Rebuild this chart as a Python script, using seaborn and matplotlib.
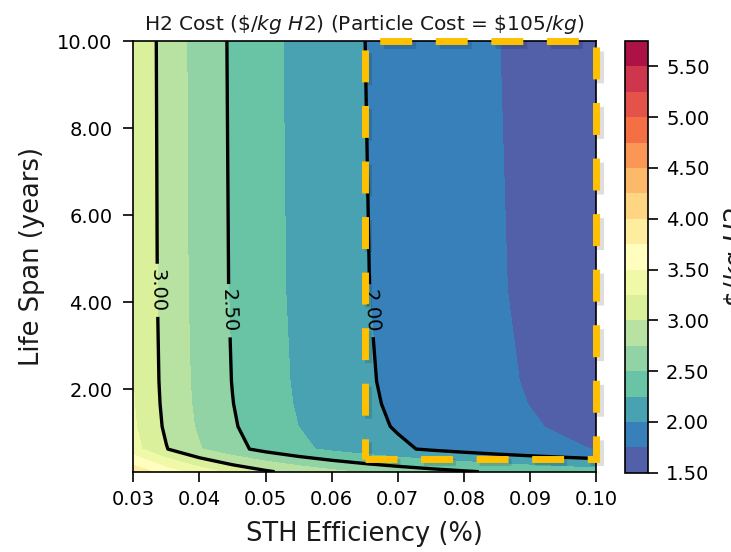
import numpy as np
import matplotlib
matplotlib.use("Agg")
import matplotlib.pyplot as plt
import matplotlib.patheffects as pe
from matplotlib.patches import Rectangle
from matplotlib.ticker import FormatStrFormatter
import seaborn as sns

# ---- data ----
efficiency = [0.030, 0.035, 0.040, 0.045, 0.050, 0.055, 0.060, 0.065,
              0.070, 0.075, 0.080, 0.085, 0.090, 0.095, 0.100]
life_span = [0.10, 0.62, 1.14, 1.66, 2.18, 4.27, 10.0]
# H2 cost ($/kg H2), one row per life span value
cost_life_0_10 = [3.943, 3.619, 3.375, 3.186, 3.034, 2.910, 2.807, 2.719, 2.644, 2.579, 2.523, 2.472, 2.428, 2.388, 2.352]
cost_life_0_62 = [3.335, 3.011, 2.767, 2.578, 2.426, 2.302, 2.199, 2.111, 2.036, 1.971, 1.915, 1.864, 1.820, 1.780, 1.744]
cost_life_1_14 = [3.282, 2.958, 2.714, 2.525, 2.373, 2.249, 2.146, 2.058, 1.983, 1.918, 1.862, 1.811, 1.767, 1.727, 1.691]
cost_life_1_66 = [3.262, 2.938, 2.694, 2.505, 2.353, 2.229, 2.126, 2.038, 1.963, 1.898, 1.842, 1.791, 1.747, 1.707, 1.671]
cost_life_2_18 = [3.251, 2.927, 2.683, 2.494, 2.342, 2.218, 2.115, 2.027, 1.952, 1.887, 1.831, 1.780, 1.736, 1.696, 1.660]
cost_life_4_27 = [3.235, 2.911, 2.667, 2.478, 2.326, 2.202, 2.099, 2.011, 1.936, 1.871, 1.815, 1.764, 1.720, 1.680, 1.644]
cost_life_10_0 = [3.225, 2.901, 2.657, 2.468, 2.316, 2.192, 2.089, 2.001, 1.926, 1.861, 1.805, 1.754, 1.710, 1.670, 1.634]

fill_levels = [1.50, 1.75, 2.00, 2.25, 2.50, 2.75, 3.00, 3.25, 3.50, 3.75,
               4.00, 4.25, 4.50, 4.75, 5.00, 5.25, 5.50, 5.75]
line_levels = [2.0, 2.5, 3.0]
x_ticks = [0.03, 0.04, 0.05, 0.06, 0.07, 0.08, 0.09, 0.10]
y_ticks = [2, 4, 6, 8, 10]
cbar_ticks = [1.5, 2.0, 2.5, 3.0, 3.5, 4.0, 4.5, 5.0, 5.5]
highlight_eff = (0.065, 0.100)
highlight_life = (0.4, 10.0)

h2_cost = np.array([cost_life_0_10, cost_life_0_62, cost_life_1_14, cost_life_1_66,
                    cost_life_2_18, cost_life_4_27, cost_life_10_0])

# ---- style ----
sns.set_style("ticks")
plt.rcParams['font.family'] = ['DejaVu Sans']
plt.rcParams['mathtext.fontset'] = 'dejavusans'
cmap = sns.color_palette("Spectral_r", as_cmap=True)

fig = plt.figure(figsize=(7.31, 5.52), dpi=100)
ax = fig.add_axes([0.1824, 0.1455, 0.633, 0.780])
cax = fig.add_axes([0.855, 0.1437, 0.0315, 0.782])

cs = ax.contourf(efficiency, life_span, h2_cost, levels=fill_levels, cmap=cmap)
cl = ax.contour(efficiency, life_span, h2_cost, levels=line_levels,
                colors='black', linewidths=2.4)
ax.clabel(cl, fmt='%.2f', fontsize=14, inline=True,
          manual=[(0.0335, 4.27), (0.0442, 3.8), (0.0658, 3.8)])

ax.set_xlim(efficiency[0], efficiency[-1])
ax.set_ylim(life_span[0], life_span[-1])
ax.set_xticks(x_ticks)
ax.set_yticks(y_ticks)
ax.xaxis.set_major_formatter(FormatStrFormatter('%.2f'))
ax.yaxis.set_major_formatter(FormatStrFormatter('%.2f'))
ax.tick_params(labelsize=14, length=7, width=1.2, colors='black')
ax.tick_params(axis='x', pad=6)
ax.tick_params(axis='y', pad=8)
for s in ax.spines.values():
    s.set_color('black')
    s.set_linewidth(1.2)
ax.set_xlabel('STH Efficiency (%)', fontsize=18.5, color='#1a1a1a', labelpad=9)
ax.set_ylabel('Life Span (years)', fontsize=18.5, color='#1a1a1a', labelpad=9)
ax.set_title(r'H2 Cost (\$/$kg\ H2$) (Particle Cost = \$105/$kg$)', fontsize=14.5,
             color='#1a1a1a', pad=8)

rect = Rectangle((highlight_eff[0], highlight_life[0]),
                 highlight_eff[1] - highlight_eff[0],
                 highlight_life[1] - highlight_life[0],
                 fill=False, edgecolor='#FFC000', linewidth=5,
                 linestyle=(0, (4.6, 3.4)), clip_on=False, zorder=6,
                 path_effects=[pe.SimpleLineShadow(offset=(2.5, -2.5), shadow_color='black', alpha=0.13),
                               pe.Normal()])
ax.add_patch(rect)

cb = fig.colorbar(cs, cax=cax, ticks=cbar_ticks, format='%.2f')
cb.ax.tick_params(labelsize=14, length=7, width=1.2, colors='black', pad=6)
cb.outline.set_edgecolor('black')
cb.outline.set_linewidth(1.2)
cb.set_label(r'\$/$kg\ H2$', fontsize=18.5, color='#1a1a1a', labelpad=9)

fig.savefig('out.png', dpi=100)
